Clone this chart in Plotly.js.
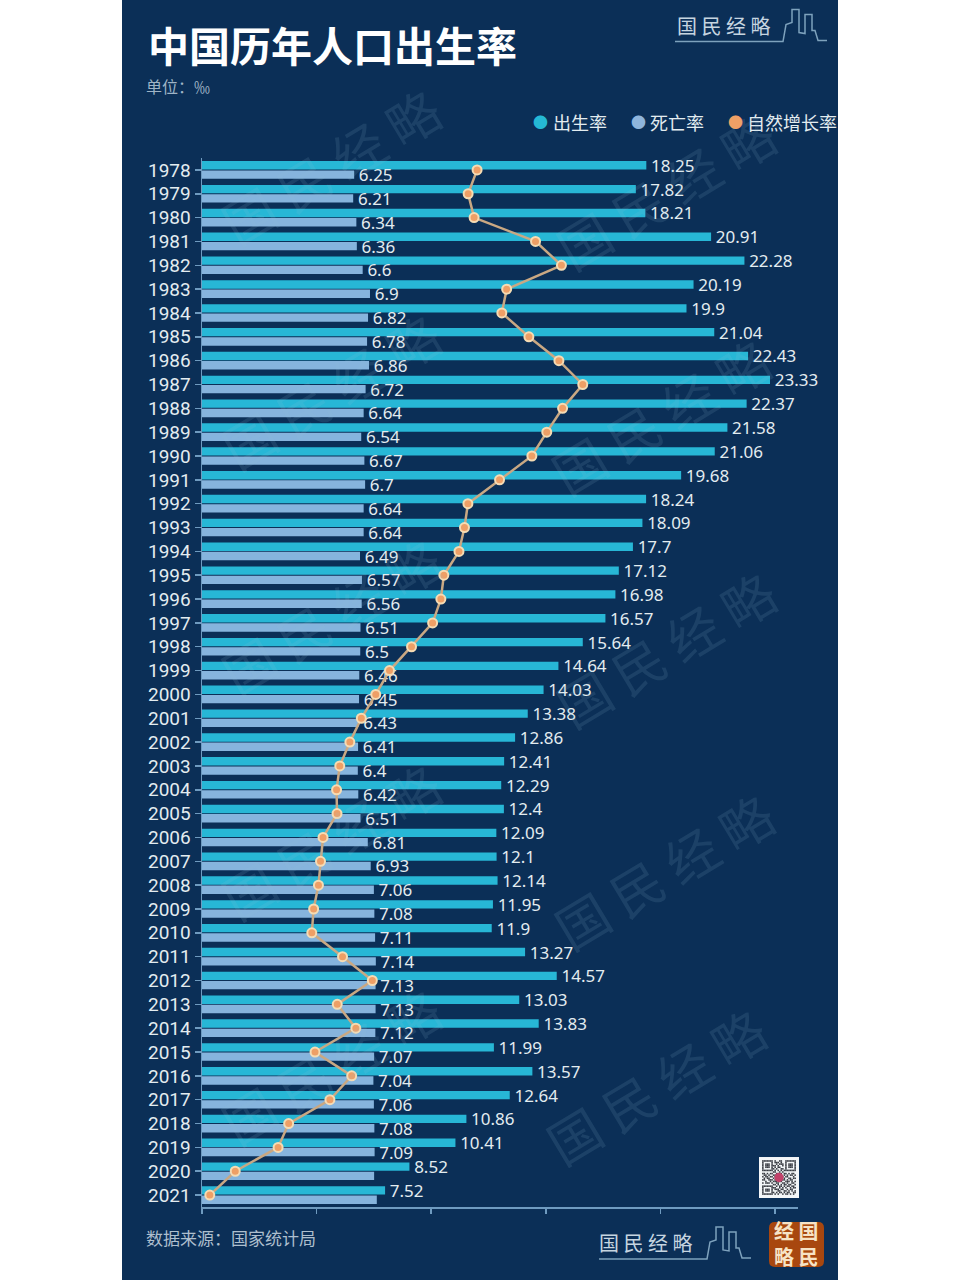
<!DOCTYPE html>
<html lang="zh">
<head>
<meta charset="utf-8">
<script src="https://cdn.plot.ly/plotly-3.0.1.min.js"></script>
<style>
html,body{margin:0;padding:0;background:#fff;width:960px;height:1280px;overflow:hidden}
#chart{position:absolute;left:122px;top:0;width:716px;height:1280px;overflow:hidden}
</style>
</head>
<body>
<div id="chart"></div>
<script>
const years = ['1978','1979','1980','1981','1982','1983','1984','1985','1986','1987','1988','1989','1990','1991','1992','1993','1994','1995','1996','1997','1998','1999','2000','2001','2002','2003','2004','2005','2006','2007','2008','2009','2010','2011','2012','2013','2014','2015','2016','2017','2018','2019','2020','2021'];
const birthRate = [18.25,17.82,18.21,20.91,22.28,20.19,19.9,21.04,22.43,23.33,22.37,21.58,21.06,19.68,18.24,18.09,17.7,17.12,16.98,16.57,15.64,14.64,14.03,13.38,12.86,12.41,12.29,12.4,12.09,12.1,12.14,11.95,11.9,13.27,14.57,13.03,13.83,11.99,13.57,12.64,10.86,10.41,8.52,7.52];
const deathRate = [6.25,6.21,6.34,6.36,6.6,6.9,6.82,6.78,6.86,6.72,6.64,6.54,6.67,6.7,6.64,6.64,6.49,6.57,6.56,6.51,6.5,6.46,6.45,6.43,6.41,6.4,6.42,6.51,6.81,6.93,7.06,7.08,7.11,7.14,7.13,7.13,7.12,7.07,7.04,7.06,7.08,7.09,7.07,7.18];
const deathLabels = ['6.25','6.21','6.34','6.36','6.6','6.9','6.82','6.78','6.86','6.72','6.64','6.54','6.67','6.7','6.64','6.64','6.49','6.57','6.56','6.51','6.5','6.46','6.45','6.43','6.41','6.4','6.42','6.51','6.81','6.93','7.06','7.08','7.11','7.14','7.13','7.13','7.12','7.07','7.04','7.06','7.08','7.09','',''];
const growthRate = [12,11.61,11.87,14.55,15.68,13.29,13.08,14.26,15.57,16.61,15.73,15.04,14.39,12.98,11.6,11.45,11.21,10.55,10.42,10.06,9.14,8.18,7.58,6.95,6.45,6.01,5.87,5.89,5.28,5.17,5.08,4.87,4.79,6.13,7.43,5.9,6.71,4.93,6.53,5.58,3.78,3.32,1.45,0.34];

const BG = '#0b2f57', FONT = '"Noto Sans CJK SC","Noto Sans",sans-serif', TEXT = '#e3ecf0';
const NUMFONT = '"Noto Sans","Noto Sans CJK SC",sans-serif';
const W = 716, H = 1280, L = 80, R = 40, T = 157.5, B = 73;
const PW = W - L - R, PH = H - T - B;
// page-pixel helpers for the decoration around the chart (paper space = plot area)
const px = x => (x - 122 - L) / PW;
const py = y => 1 - (y - T) / PH;
const paperNote = (x, y, text, size, color, extra) => Object.assign({
  xref:'paper', yref:'paper', x:px(x), y:py(y), text, showarrow:false, xanchor:'left', yanchor:'middle',
  font:{family:FONT, size, color}
}, extra || {});

const traces = [
  {type:'bar', orientation:'h', name:'出生率', y:years, x:birthRate, text:birthRate.map(String), texttemplate:'\u200a%{text}',
   textposition:'outside', constraintext:'none', cliponaxis:false, textfont:{family:NUMFONT, size:17, color:TEXT},
   marker:{color:'#27b7d6'}, xaxis:'x', yaxis:'y', hoverinfo:'x+y'},
  {type:'bar', orientation:'h', name:'死亡率', y:years, x:deathRate, text:deathLabels, texttemplate:'\u200a%{text}',
   textposition:'outside', constraintext:'none', cliponaxis:false, textfont:{family:NUMFONT, size:17, color:TEXT},
   marker:{color:'#86b4dd'}, xaxis:'x', yaxis:'y', hoverinfo:'x+y'},
  {type:'scatter', mode:'lines+markers', name:'自然增长率', y:years, x:growthRate,
   line:{color:'#c9a883', width:2.5}, cliponaxis:false,
   marker:{color:'#ee9f66', size:9, line:{color:'#f5dcb4', width:2}}, xaxis:'x2', yaxis:'y', hoverinfo:'x+y'}
];

const annotations = [
  paperNote(146, 43, '<b>中国历年人口出生率</b>', 41, '#ffffff'),
  paperNote(144, 85, '单位：‰', 16, '#9fb4c6'),
  paperNote(144, 1238, '数据来源：国家统计局', 17, '#aebfce'),
  paperNote(531, 121, '●', 15, '#25b9d5'), paperNote(551, 121, '出生率', 18, TEXT),
  paperNote(629, 121, '●', 15, '#8fb5dc'), paperNote(648, 121, '死亡率', 18, TEXT),
  paperNote(726, 121, '●', 15, '#efa066'), paperNote(745, 121, '自然增长率', 18, TEXT),
  paperNote(675, 25, '国 民 经 略', 20, '#c6d5e0'),
  paperNote(597, 1243, '国 民 经 略', 20, '#c6d5e0'),
  paperNote(796, 1244, '<b>经\u00a0国<br>略\u00a0民</b>', 20, '#f6e3c6', {xanchor:'center'})
];
[[330,165],[665,190],[660,415],[330,390],[330,615],[665,648],[330,840],[663,870],[330,1065],[655,1085]].forEach(c => {
  annotations.push(paperNote(c[0], c[1], '国 民 经 略', 52, 'rgba(150,190,215,0.13)', {xanchor:'center', textangle:-31}));
});

const skyline = (dx, dy) => {
  const p = [[675,41],[783,41],[786,24],[792,22],[792,9],[799,9],[799,32],[805,33],[805,14],[812,14],[812,30],[815,30],[818,40],[827,40]];
  return {type:'path', xref:'paper', yref:'paper', line:{color:'#7ea2bd', width:1.5},
    path:p.map((q,i)=>(i?'L':'M')+px(q[0]+dx)+','+py(q[1]+dy)).join(' ')};
};
const seal = (x0, y0, x1, y1, r) => {
  const P = (x, y) => px(x) + ',' + py(y);
  return {type:'path', xref:'paper', yref:'paper', fillcolor:'#a8470f', line:{width:0}, layer:'below',
    path:`M${P(x0+r,y0)} L${P(x1-r,y0)} Q${P(x1,y0)} ${P(x1,y0+r)} L${P(x1,y1-r)} Q${P(x1,y1)} ${P(x1-r,y1)} L${P(x0+r,y1)} Q${P(x0,y1)} ${P(x0,y1-r)} L${P(x0,y0+r)} Q${P(x0,y0)} ${P(x0+r,y0)} Z`};
};
const shapes = [skyline(0,0), skyline(-76,1218), seal(769,1222,824,1267,6)];

// decorative code square
const qrRows = ['1111111010011001111111','1000001011101001000001','1011101001011101011101','1011101110100101011101','1011101010110001011101','1000001101001101000001','1111111010101011111111','0000000110010100000000','1101011001101011010110','0110100111010010101101','1011011010011101100010','0101100101101010011011','1100111010010110101100','0010010111011001110101','1011101001100110100110','0000000110101011011001','1111111001011010110110','1000001110010101001011','1011101011101100101100','1011101000110011010101','1000001101011010110011','1111111010100101101010'];
let qr = '<svg xmlns="http://www.w3.org/2000/svg" viewBox="-2 -2 26 26"><rect x="-2" y="-2" width="26" height="26" fill="#f4f6f8"/>';
qrRows.forEach((r,j)=>{[...r].forEach((c,i)=>{ if(c==='1') qr += `<rect x="${i}" y="${j}" width="1" height="1" fill="#3a3d44"/>`; });});
qr += '<circle cx="11" cy="11" r="3" fill="#c2416a"/></svg>';

const layout = {
  width:W, height:H, paper_bgcolor:BG, plot_bgcolor:BG, showlegend:false,
  margin:{l:L, r:R, t:T, b:B, pad:0},
  barmode:'group', bargap:0.22, bargroupgap:0.1,
  font:{family:FONT, color:TEXT},
  xaxis:{range:[0,24.48], visible:false, fixedrange:true},
  xaxis2:{overlaying:'x', side:'bottom', anchor:'y', range:[0,26], tickmode:'linear', tick0:0, dtick:5,
    showticklabels:false, ticks:'outside', ticklen:5, tickwidth:1.5, tickcolor:'#6f9bc0',
    showline:true, linecolor:'#6f9bc0', linewidth:1.5, showgrid:false, zeroline:false, fixedrange:true},
  yaxis:{type:'category', categoryorder:'array', categoryarray:years, range:[43.5,-0.5], tickmode:'linear', dtick:1,
    ticks:'outside', ticklen:6, tickwidth:1.5, tickcolor:'#6f9bc0', showline:true, linecolor:'#6f9bc0', linewidth:1.5,
    showgrid:false, zeroline:false, tickfont:{family:'Roboto,"Noto Sans",sans-serif', size:19, color:TEXT}, fixedrange:true},
  annotations, shapes,
  images:[{source:'data:image/svg+xml;charset=utf-8,'+encodeURIComponent(qr), xref:'paper', yref:'paper',
    x:px(759), y:py(1157), sizex:40/PW, sizey:41/PH, sizing:'stretch', xanchor:'left', yanchor:'top', layer:'above'}]
};
Plotly.newPlot('chart', traces, layout, {displayModeBar:false, staticPlot:true});
</script>
</body>
</html>
